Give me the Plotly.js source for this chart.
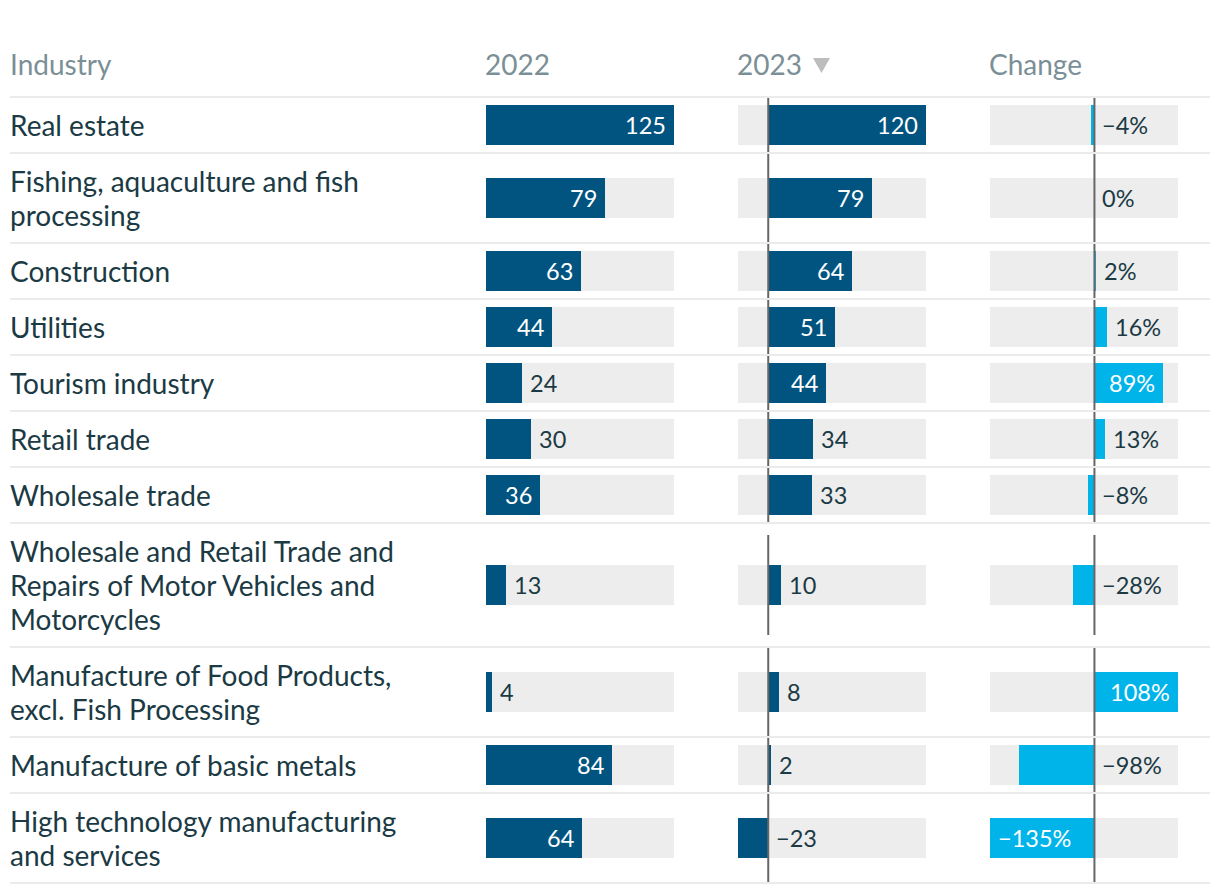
<!DOCTYPE html>
<html>
<head>
<meta charset="utf-8">
<script src="https://cdn.plot.ly/plotly-3.0.1.min.js"></script>
<style>html,body{margin:0;padding:0;background:#fff;}#chart{width:1220px;height:894px;}</style>
</head>
<body>
<div id="chart"></div>
<script>
// ---- data ----
const industries = [
  "Real estate",
  "Fishing, aquaculture and fish<br>processing",
  "Construction",
  "Utilities",
  "Tourism industry",
  "Retail trade",
  "Wholesale trade",
  "Wholesale and Retail Trade and<br>Repairs of Motor Vehicles and<br>Motorcycles",
  "Manufacture of Food Products,<br>excl. Fish Processing",
  "Manufacture of basic metals",
  "High technology manufacturing<br>and services"
];
const v2022 = [125, 79, 63, 44, 24, 30, 36, 13, 4, 84, 64];
const v2023 = [120, 79, 64, 51, 44, 34, 33, 10, 8, 2, -23];
const change = [-4, 0, 2, 16, 89, 13, -8, -28, 108, -98, -135];
const headers = ["Industry", "2022", "2023", "Change"];

// ---- style ----
const W = 1220, H = 894;
const FONT = "Lato, 'Open Sans', sans-serif";
const TXT = "#1b3a44", HDR = "#7b8f96";
const DARK = "#01547f", CYAN = "#00b4ea", TRACK = "#ededed";
const SEP = "#ebebeb", ZERO = "#666666";
const headerBottom = 97, baseRow = 56, lineStep = 34, barH = 40;
const colLeft = [486, 738, 990], colW = 188;
const LABEL_SIZE = 28, VALUE_SIZE = 23.5;

// row geometry from number of label lines
const tops = [], heights = [], centers = [];
let yCur = headerBottom;
industries.forEach(l => {
  const n = l.split("<br>").length;
  const h = baseRow + lineStep * (n - 1);
  tops.push(yCur); heights.push(h); centers.push(yCur + h / 2);
  yCur += h;
});

const cols = [
  {vals: v2022, color: DARK, ax: "x", fmt: v => fmtNum(v), zero: false},
  {vals: v2023, color: DARK, ax: "x2", fmt: v => fmtNum(v), zero: true},
  {vals: change, color: CYAN, ax: "x3", fmt: v => fmtNum(v) + "%", zero: true}
];
function fmtNum(v) { return v < 0 ? "\u2212" + Math.abs(v) : String(v); }

const traces = [], annotations = [], shapes = [];
const layout = {
  width: W, height: H,
  margin: {l: 0, r: 0, t: 0, b: 0},
  paper_bgcolor: "#fff", plot_bgcolor: "rgba(0,0,0,0)",
  showlegend: false, barmode: "overlay", bargap: 0,
  font: {family: FONT, color: TXT},
  yaxis: {range: [H, 0], domain: [0, 1], visible: false, fixedrange: true}
};

cols.forEach((c, i) => {
  const lo = Math.min(0, ...c.vals), hi = Math.max(0, ...c.vals);
  const axName = i === 0 ? "xaxis" : "xaxis" + (i + 1);
  layout[axName] = {
    domain: [colLeft[i] / W, (colLeft[i] + colW) / W],
    range: [lo, hi], visible: false, fixedrange: true, anchor: "y"
  };
  // track
  traces.push({
    type: "bar", orientation: "h", xaxis: c.ax, yaxis: "y",
    y: centers, x: c.vals.map(() => hi - lo), base: lo,
    width: barH, marker: {color: TRACK, line: {width: 0}}, hoverinfo: "skip"
  });
  // values
  traces.push({
    type: "bar", orientation: "h", xaxis: c.ax, yaxis: "y",
    y: centers, x: c.vals, base: 0,
    width: barH, marker: {color: c.color, line: {width: 0}}, hoverinfo: "skip"
  });
  const pxPer = colW / (hi - lo);
  c.vals.forEach((v, k) => {
    const px = Math.abs(v) * pxPer;
    const inside = v >= 0 ? px >= 54 : px >= 90;
    let xa, xs;
    if (inside) { xa = v >= 0 ? "right" : "left"; xs = v >= 0 ? -6 : 6; }
    else { xa = "left"; xs = 6; }
    annotations.push({
      xref: c.ax, yref: "y", x: inside ? v : (v > 0 ? v : 0), y: centers[k],
      text: c.fmt(v), showarrow: false, xanchor: xa, yanchor: "middle", xshift: xs,
      font: {family: FONT, size: VALUE_SIZE, color: inside ? "#ffffff" : TXT}
    });
    if (c.zero) {
      const half = Math.min(heights[k], 100) / 2;
      shapes.push({
        type: "line", xref: c.ax, yref: "y", x0: 0, x1: 0,
        y0: Math.max(tops[k] + 1, centers[k] - half),
        y1: Math.min(tops[k] + heights[k] - 1, centers[k] + half),
        line: {color: ZERO, width: 2}
      });
    }
  });
});

// separators
[headerBottom].concat(tops.map((t, k) => t + heights[k])).forEach(y => {
  shapes.push({type: "line", xref: "paper", yref: "y", x0: 10 / W, x1: 1210 / W,
    y0: y, y1: y, line: {color: SEP, width: 2}, layer: "below"});
});

// row labels (one annotation per line for exact line spacing)
industries.forEach((l, k) => {
  const lines = l.split("<br>");
  lines.forEach((ln, j) => {
    annotations.push({
      xref: "paper", yref: "y", x: 11 / W, xshift: -3,
      y: centers[k] + (j - (lines.length - 1) / 2) * lineStep, text: ln, showarrow: false,
      xanchor: "left", yanchor: "middle", align: "left",
      font: {family: FONT, size: LABEL_SIZE, color: TXT}
    });
  });
});

// headers
const hdrY = 64;
annotations.push({xref: "paper", yref: "y", x: 11 / W, xshift: -3, y: hdrY, text: headers[0], showarrow: false,
  xanchor: "left", yanchor: "middle", font: {family: FONT, size: LABEL_SIZE, color: HDR}});
["x", "x2", "x3"].forEach((ax, i) => {
  annotations.push({xref: ax + " domain", yref: "y", x: 0, xshift: -3, y: hdrY, text: headers[i + 1], showarrow: false,
    xanchor: "left", yanchor: "middle", font: {family: FONT, size: LABEL_SIZE, color: HDR}});
});
// sort indicator (small icon next to the 2023 header)
const tx = p => (p / W).toFixed(5);
shapes.push({type: "path", xref: "paper", yref: "y", fillcolor: "#bdbdbd", line: {width: 0},
  path: `M ${tx(813)} 58 L ${tx(830)} 58 L ${tx(821.5)} 73 Z`});

layout.annotations = annotations;
layout.shapes = shapes;

Plotly.newPlot("chart", traces, layout, {displayModeBar: false, staticPlot: true});
</script>
</body>
</html>
